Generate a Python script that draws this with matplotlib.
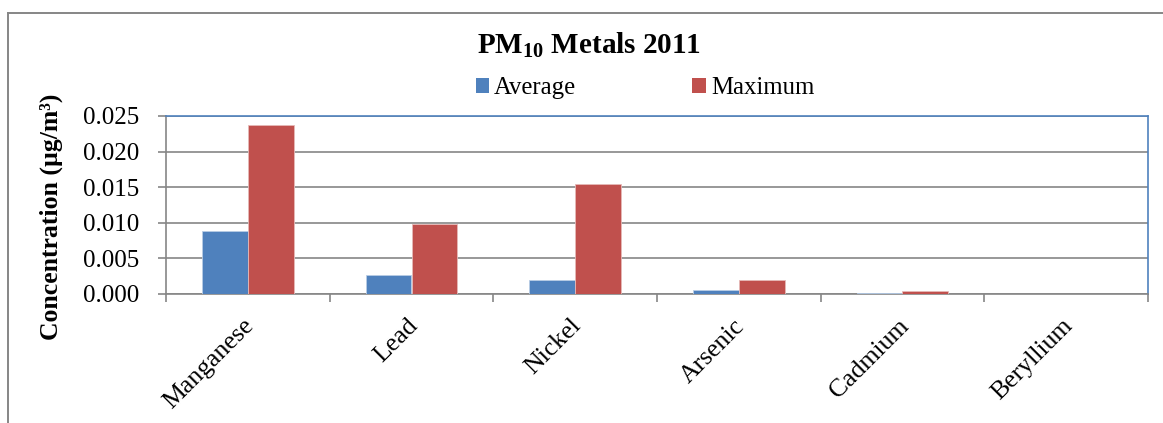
import matplotlib
matplotlib.use("Agg")
import matplotlib.pyplot as plt
import matplotlib.transforms as mtransforms
import numpy as np
from matplotlib.patches import Patch
from matplotlib.lines import Line2D

categories = ["Manganese", "Lead", "Nickel", "Arsenic", "Cadmium", "Beryllium"]
average = [0.0089, 0.0027, 0.0020, 0.00056, 0.0002, 0.0]
maximum = [0.0238, 0.0099, 0.0154, 0.0020, 0.0004, 0.0]
series_names = ["Average", "Maximum"]
yticks = [0.000, 0.005, 0.010, 0.015, 0.020, 0.025]

BLUE = "#4F81BD"
RED = "#C0504D"
GRAY = "#868686"
SERIF = ['Liberation Serif', 'DejaVu Serif']

plt.rcParams['font.family'] = SERIF
plt.rcParams['mathtext.fontset'] = 'custom'
plt.rcParams['mathtext.rm'] = 'Liberation Serif:bold'
plt.rcParams['mathtext.bf'] = 'Liberation Serif:bold'

W, H = 1163, 423
fig = plt.figure(figsize=(W / 100, H / 100), dpi=100)
ax = fig.add_axes([166 / W, 1 - 294 / H, (1148 - 166) / W, (294 - 116) / H])

x = np.arange(len(categories))
bw = 0.28
ax.bar(x - bw / 2, average, bw, color=BLUE, edgecolor="#B9CDE5", linewidth=0.6, zorder=3, label=series_names[0])
ax.bar(x + bw / 2, maximum, bw, color=RED, edgecolor="#E6B9B8", linewidth=0.6, zorder=3, label=series_names[1])

ax.set_xlim(-0.5, len(categories) - 0.5)
ax.set_ylim(0, 0.025)
ax.set_yticks(yticks)
ax.set_yticklabels([f"{v:.3f}" for v in yticks], fontsize=18, family=SERIF)
ax.yaxis.grid(True, color=GRAY, linewidth=1.2, zorder=0)
ax.set_axisbelow(True)

ax.set_xticks(x)
ax.set_xticklabels(categories, rotation=45, ha="right", va="top", rotation_mode="anchor",
                   fontsize=18.5, family=SERIF)
ax.tick_params(axis="x", which="major", length=0, pad=15)
offset = mtransforms.ScaledTranslation(-5 / 100, 0, fig.dpi_scale_trans)
for lbl in ax.get_xticklabels():
    lbl.set_transform(lbl.get_transform() + offset)
ax.set_xticks(np.arange(-0.5, len(categories), 1.0), minor=True)
ax.tick_params(axis="x", which="minor", length=6, width=1.2, color=GRAY)
ax.tick_params(axis="y", length=6, width=1.2, color=GRAY, pad=13)

for s in ["left", "bottom"]:
    ax.spines[s].set_color(GRAY)
    ax.spines[s].set_linewidth(1.2)
for s in ["top", "right"]:
    ax.spines[s].set_color(BLUE)
    ax.spines[s].set_linewidth(1.2)

ax.set_ylabel("Concentration (µg/m³)", fontsize=18.5, fontweight="bold", family=SERIF)
ax.yaxis.set_label_coords((63 - 166) / (1148 - 166), (294 - 217) / (294 - 116))

fig.text(589 / W, 1 - 45 / H, r"$\mathbf{PM_{10}}$ Metals 2011", ha="center", va="center",
         fontsize=21, fontweight="bold")

handles = [Patch(facecolor=BLUE, edgecolor="none"), Patch(facecolor=RED, edgecolor="none")]
fig.legend(handles, series_names, loc="center", bbox_to_anchor=(645 / W, 1 - 88 / H), ncol=2,
           frameon=False, fontsize=17.8, handlelength=0.55, handleheight=0.55, handletextpad=0.2,
           columnspacing=4.7, borderaxespad=0, borderpad=0)

# outer chart border (left and top visible)
fig.add_artist(Line2D([8 / W, 8 / W], [0, 1 - 13 / H], color=GRAY, linewidth=1.4, transform=fig.transFigure))
fig.add_artist(Line2D([8 / W, 1], [1 - 13 / H, 1 - 13 / H], color=GRAY, linewidth=1.4, transform=fig.transFigure))

fig.savefig("out.png", dpi=100, facecolor="white")
